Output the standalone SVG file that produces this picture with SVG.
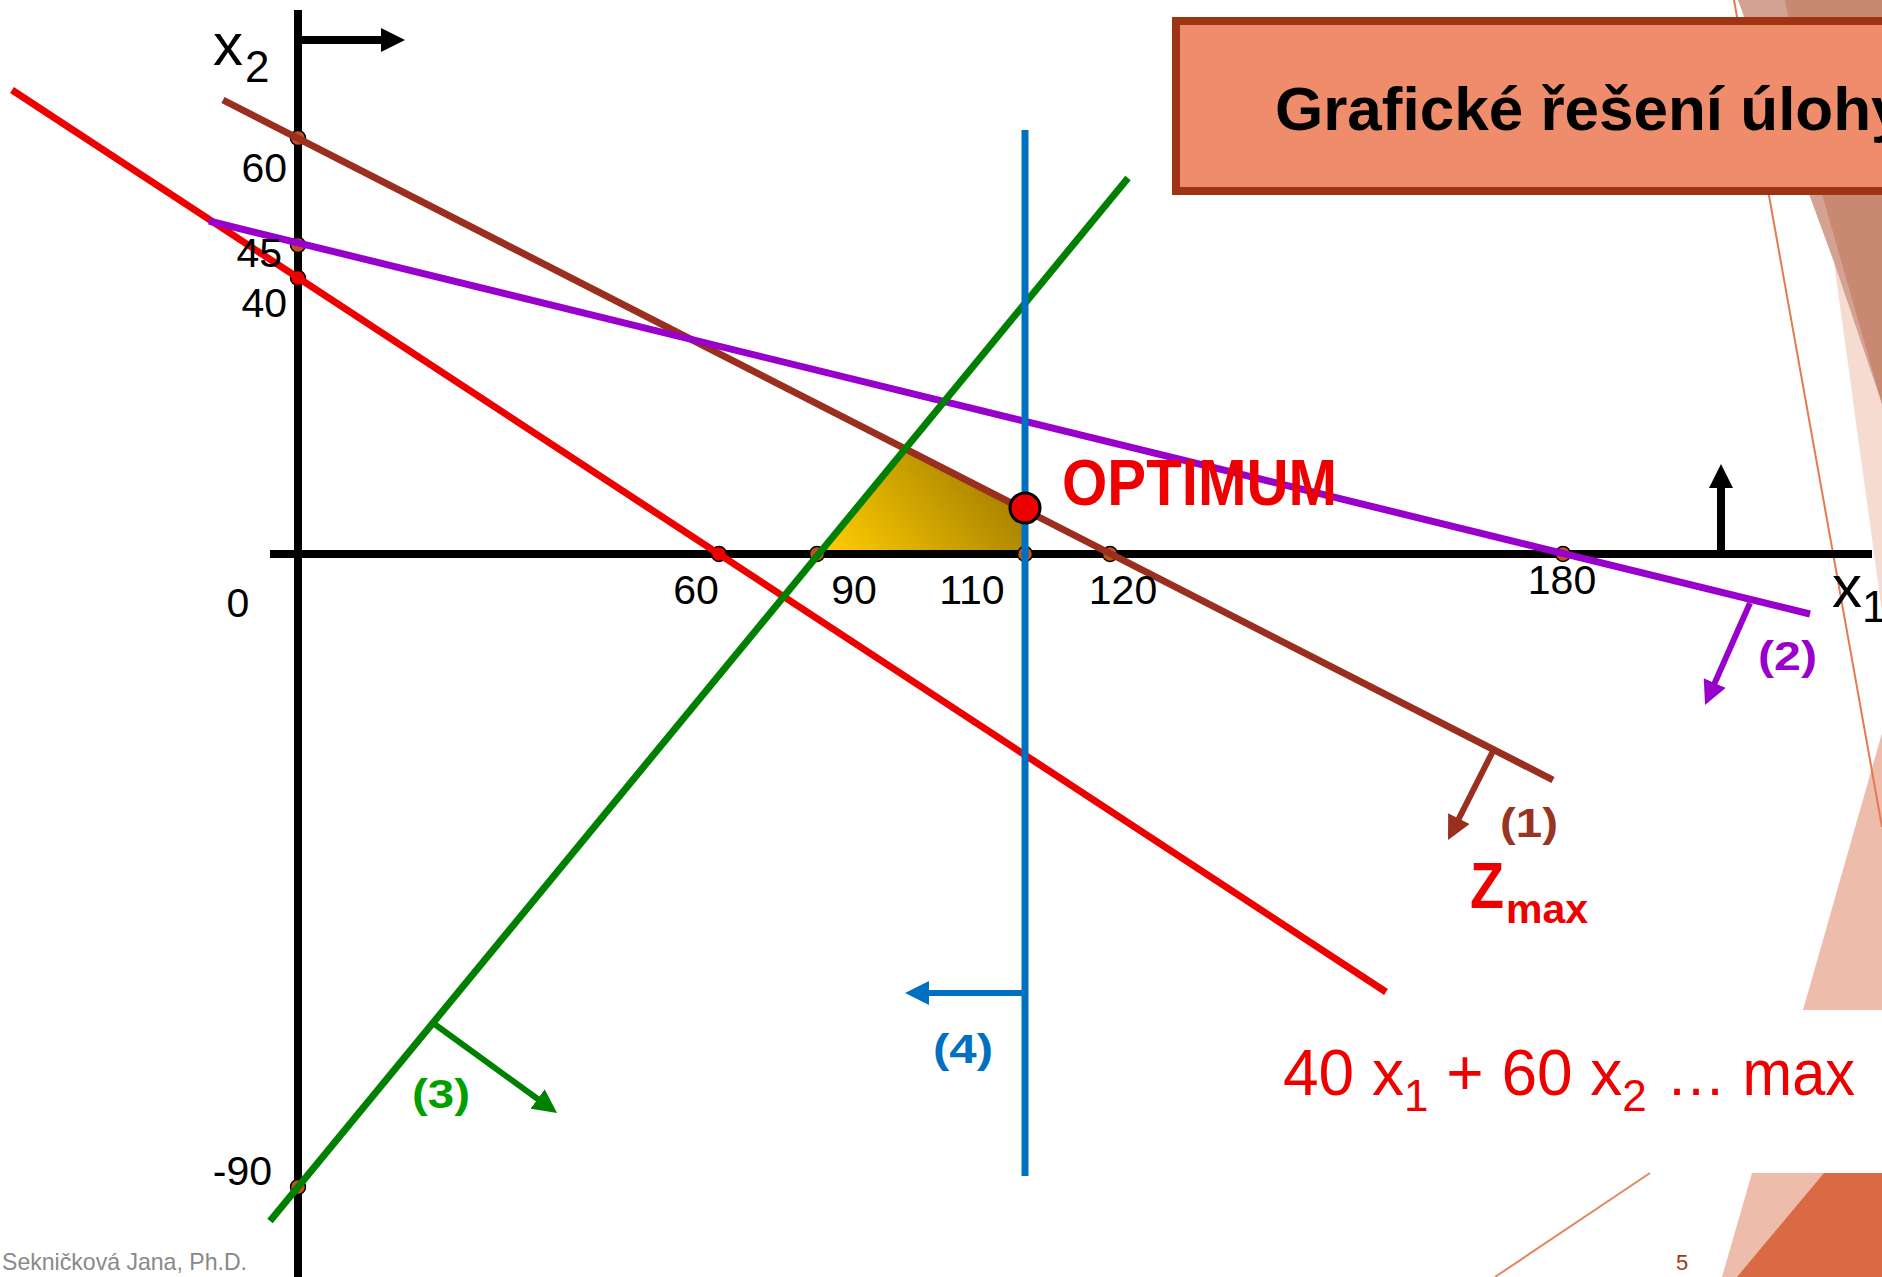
<svg xmlns="http://www.w3.org/2000/svg" width="1882" height="1277" viewBox="0 0 1882 1277">
<style>
.ax{stroke:#000;stroke-width:8;fill:none}
.ln{stroke-width:7;fill:none;stroke-linecap:butt}
.ar{stroke-width:6;fill:none}
.dot{fill:#c8501f;stroke:#000;stroke-width:1.5}
.rdot{fill:#ee0000;stroke:#000;stroke-width:1.5}
.num{font-family:"Liberation Sans",Arial,sans-serif;font-size:41px;fill:#000}
.var{font-family:"Liberation Sans",Arial,sans-serif;fill:#000}
.lbl{font-family:"Liberation Sans",Arial,sans-serif;font-size:40px;font-weight:bold}
</style>
<defs>
<linearGradient id="gold" gradientUnits="userSpaceOnUse" x1="840" y1="565" x2="1000" y2="440">
<stop offset="0" stop-color="#ffcc00"/>
<stop offset="1" stop-color="#9a7700"/>
</linearGradient>
<marker id="mk" viewBox="0 0 10 10" refX="2" refY="5" markerWidth="24" markerHeight="24" markerUnits="userSpaceOnUse" orient="auto"><path d="M0,0 L10,5 L0,10 z" fill="#000"/></marker>
<marker id="mbr" viewBox="0 0 10 10" refX="2" refY="5" markerWidth="24" markerHeight="24" markerUnits="userSpaceOnUse" orient="auto"><path d="M0,0 L10,5 L0,10 z" fill="#9a2e1f"/></marker>
<marker id="mpu" viewBox="0 0 10 10" refX="2" refY="5" markerWidth="24" markerHeight="24" markerUnits="userSpaceOnUse" orient="auto"><path d="M0,0 L10,5 L0,10 z" fill="#9900cc"/></marker>
<marker id="mgr" viewBox="0 0 10 10" refX="2" refY="5" markerWidth="24" markerHeight="24" markerUnits="userSpaceOnUse" orient="auto"><path d="M0,0 L10,5 L0,10 z" fill="#008000"/></marker>
<marker id="mbl" viewBox="0 0 10 10" refX="2" refY="5" markerWidth="24" markerHeight="24" markerUnits="userSpaceOnUse" orient="auto"><path d="M0,0 L10,5 L0,10 z" fill="#0070c0"/></marker>
</defs>
<rect width="1882" height="1277" fill="#fff"/>
<!-- background decoration -->
<g id="decor">
<polygon points="1738,0 1882,0 1882,612 1834,262" fill="#f6dbd1"/>
<polygon points="1738,0 1882,0 1882,404 1834,262" fill="#d4a293"/>
<polygon points="1785,0 1882,0 1882,404 1822,194" fill="#c98871"/>
<polygon points="1882,733 1882,1010 1803,1010" fill="#eebcaa"/>
<polygon points="1752,1173 1882,1173 1882,1277 1722,1277" fill="#eebcaa"/>
<polygon points="1824,1173 1882,1173 1882,1277 1737,1277" fill="#d96a43"/>
<line x1="1734" y1="0" x2="1882" y2="827" stroke="#e27a52" stroke-width="2"/>
<line x1="1650" y1="1173" x2="1495" y2="1277" stroke="#e08860" stroke-width="2"/>
</g>
<g id="title">
<rect x="1176" y="21" width="760" height="170" fill="#ef8c6b" stroke="#9e3414" stroke-width="8"/>
<text x="1275" y="130" font-family="Liberation Sans, Arial, sans-serif" font-size="62" font-weight="bold" fill="#000">Grafické řešení úlohy</text>
</g>
<g id="feasible">
<polygon points="817,554 904,448 1025,510 1025,554" fill="url(#gold)"/>
</g>
<g id="axes">
<line class="ax" x1="298" y1="10" x2="298" y2="1277"/>
<line class="ax" x1="270" y1="554" x2="1872" y2="554"/>
<line class="ax" x1="298" y1="40" x2="385.8" y2="40" marker-end="url(#mk)"/>
<line class="ax" x1="1721" y1="554" x2="1721" y2="483.2" marker-end="url(#mk)"/>
</g>
<g id="points">
<circle class="dot" cx="298" cy="138" r="7.5"/>
<circle class="dot" cx="298" cy="245" r="7.5"/>
<circle class="rdot" cx="298" cy="278" r="7.5"/>
<circle class="rdot" cx="719" cy="554" r="7.5"/>
<circle class="dot" cx="817" cy="554" r="7.5"/>
<circle class="dot" cx="1025" cy="554" r="7.5"/>
<circle class="dot" cx="1110" cy="554" r="7.5"/>
<circle class="dot" cx="1563" cy="554" r="7.5"/>
<circle class="dot" cx="298" cy="1187" r="7.5"/>
</g>
<g id="connectors">
<line class="ln" stroke="#ee0000" x1="12" y1="90" x2="1386" y2="992"/>
<line class="ln" stroke="#9a2e1f" x1="223" y1="100" x2="1553" y2="780"/>
<line class="ln" stroke="#9900cc" x1="209" y1="221" x2="1810" y2="614"/>
<line class="ln" stroke="#008000" x1="1128" y1="178" x2="270" y2="1221"/>
<line class="ln" stroke="#0070c0" x1="1025" y1="130" x2="1025" y2="1176"/>
<line class="ar" stroke="#9a2e1f" x1="1493" y1="751" x2="1456.7" y2="822.9" marker-end="url(#mbr)"/>
<line class="ar" stroke="#9900cc" x1="1750" y1="603" x2="1712.8" y2="687.4" marker-end="url(#mpu)"/>
<line class="ar" stroke="#008000" x1="433" y1="1023" x2="541.5" y2="1101.7" marker-end="url(#mgr)"/>
<line class="ar" stroke="#0070c0" x1="1025" y1="993" x2="924.2" y2="993" marker-end="url(#mbl)"/>
</g>
<g id="optimum">
<circle cx="1025" cy="508" r="15" fill="#ee0000" stroke="#000" stroke-width="3"/>
<text x="1062" y="505" font-family="Liberation Sans, Arial, sans-serif" font-size="64" font-weight="bold" fill="#ee0000" textLength="275" lengthAdjust="spacingAndGlyphs">OPTIMUM</text>
</g>
<g id="axis-labels">
<text class="var" x="213" y="65" font-size="60">x<tspan x="245" y="82" font-size="44">2</tspan></text>
<text class="var" x="1832" y="607" font-size="60">x<tspan x="1862" y="622" font-size="44">1</tspan></text>
<text class="num" x="287" y="182" text-anchor="end">60</text>
<text class="num" x="282" y="267" text-anchor="end">45</text>
<text class="num" x="287" y="317" text-anchor="end">40</text>
<text class="num" x="272" y="1185" text-anchor="end">-90</text>
<text class="num" x="238" y="617" text-anchor="middle">0</text>
<text class="num" x="696" y="604" text-anchor="middle">60</text>
<text class="num" x="854" y="604" text-anchor="middle">90</text>
<text class="num" x="972" y="604" text-anchor="middle">110</text>
<text class="num" x="1123" y="604" text-anchor="middle">120</text>
<text class="num" x="1562" y="594" text-anchor="middle">180</text>
</g>
<g id="constraint-labels">
<text class="lbl" x="1500" y="837" fill="#993322" textLength="58" lengthAdjust="spacingAndGlyphs">(1)</text>
<text class="lbl" x="1758" y="670" fill="#9900cc" textLength="59" lengthAdjust="spacingAndGlyphs">(2)</text>
<text class="lbl" x="412" y="1108" fill="#00a000" textLength="58" lengthAdjust="spacingAndGlyphs">(3)</text>
<text class="lbl" x="933" y="1063" fill="#0070c0" textLength="60" lengthAdjust="spacingAndGlyphs">(4)</text>
</g>
<g id="zmax">
<text font-family="Liberation Sans, Arial, sans-serif" font-weight="bold" fill="#ee0000"><tspan x="1470" y="908" font-size="64" textLength="34" lengthAdjust="spacingAndGlyphs">Z</tspan><tspan x="1506" y="923" font-size="41">max</tspan></text>
</g>
<g id="objective">
<text x="1283" y="1095" font-family="Liberation Sans, Arial, sans-serif" font-size="64" fill="#ee0000">40 x<tspan dy="16" font-size="44">1</tspan><tspan dy="-16"> + 60 x</tspan><tspan dy="16" font-size="44">2 </tspan><tspan x="1666" y="1095" font-size="60">…</tspan><tspan x="1726" y="1095" textLength="129" lengthAdjust="spacingAndGlyphs"> max</tspan></text>
</g>
<g id="footer">
<text x="2" y="1270" font-family="Liberation Sans, Arial, sans-serif" font-size="24" fill="#898989" textLength="245" lengthAdjust="spacingAndGlyphs">Sekničková Jana, Ph.D.</text>
<text x="1676" y="1270" font-family="Liberation Sans, Arial, sans-serif" font-size="22" fill="#9e3a14">5</text>
</g>
</svg>
